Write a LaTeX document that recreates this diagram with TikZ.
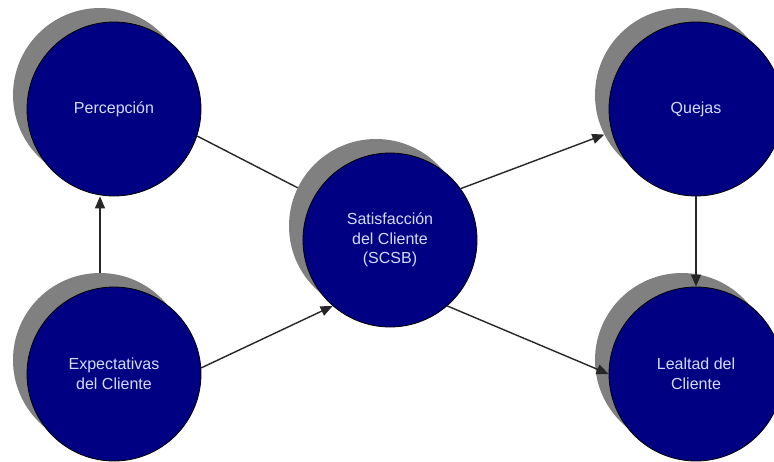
\documentclass[tikz,border=0pt]{standalone}
\usepackage{fontspec}
\setmainfont{Liberation Sans}
\usetikzlibrary{arrows.meta, positioning, calc}
\definecolor{NavyFill}{RGB}{0,0,130}
\definecolor{ShadowGray}{RGB}{128,128,128}
\definecolor{PaleText}{RGB}{215,218,255}

\begin{document}
\begin{tikzpicture}[x=1pt, y=-1pt, >={Triangle[length=12pt, width=10pt]},
        bubble/.style={circle, minimum size=174pt, inner sep=0pt, fill=NavyFill, draw=black, line width=0.8pt,
            text=PaleText, align=center, font=\fontsize{16}{19.5}\selectfont},
        shadowcirc/.style={circle, minimum size=174pt, inner sep=0pt, fill=ShadowGray},
        link/.style={draw=black!85, line width=1.4pt}]
        \fill[white] (0,0) rectangle (774,461);
        \useasboundingbox (0,0) rectangle (774,461);

        % Shadows
        \node[shadowcirc] (percS) at (100,95) {};
        \node[shadowcirc] (expectS) at (100,360) {};
        \node[shadowcirc] (satisS) at (376,226) {};
        \node[shadowcirc] (quejasS) at (682,95) {};
        \node[shadowcirc] (lealS) at (682,360) {};

        % Circles
        \node[bubble] (perc) at (114,109) {Percepción};
        \node[bubble] (expect) at (114,374) {Expectativas\\del Cliente};
        \node[bubble] (satis) at (390,240) {Satisfacción\\del Cliente\\(SCSB)};
        \node[bubble] (quejas) at (696,109) {Quejas};
        \node[bubble] (leal) at (696,374) {Lealtad del\\Cliente};

        % Connectors
        \draw[link, ->] (expectS.north) -- (expectS.north |- perc.south);
        \draw[link] (perc.-18) -- (satisS.154);
        \draw[link, ->] (expect.4) -- (satis.229);
        \draw[link, ->] (satis.36) -- (quejasS.207);
        \draw[link, ->] (satis.-49) -- (leal.180);
        \draw[link, ->] (quejas.south) -- (leal.north);
    \end{tikzpicture}
\end{document}
